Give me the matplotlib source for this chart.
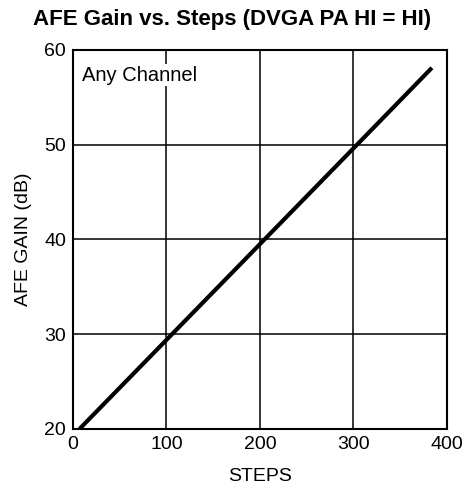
import matplotlib
matplotlib.use('Agg')
import matplotlib.pyplot as plt

# gain follows a straight line over the step range
steps = [7, 106, 205, 304, 384]
gain_db = [20, 30, 40, 50, 58.1]

x_ticks = [0, 100, 200, 300, 400]
y_ticks = [20, 30, 40, 50, 60]

plt.rcParams['font.family'] = ['Liberation Sans', 'DejaVu Sans']

fig = plt.figure(figsize=(4.65, 4.93), dpi=100)
ax = fig.add_axes([0.157, 0.130, 0.804, 0.769])

ax.plot(steps, gain_db, color='black', linewidth=3, solid_capstyle='butt', zorder=3)

ax.set_xlim(0, 400)
ax.set_ylim(20, 60)
ax.set_xticks(x_ticks)
ax.set_yticks(y_ticks)
ax.tick_params(length=0, labelsize=14, pad=5, colors='black')
ax.grid(True, color='black', linewidth=1.1)
for sp in ax.spines.values():
    sp.set_linewidth(1.5)

ax.set_xlabel('STEPS', fontsize=14, labelpad=11)
ax.set_ylabel('AFE GAIN (dB)', fontsize=14, labelpad=9)
ax.text(0.025, 0.958, 'Any Channel', transform=ax.transAxes, fontsize=14.5,
        ha='left', va='top', bbox=dict(facecolor='white', edgecolor='none', pad=1))

fig.suptitle('AFE Gain vs. Steps (DVGA PA HI = HI)', fontsize=16, fontweight='bold', y=0.982)

fig.savefig('out.png', dpi=100)
